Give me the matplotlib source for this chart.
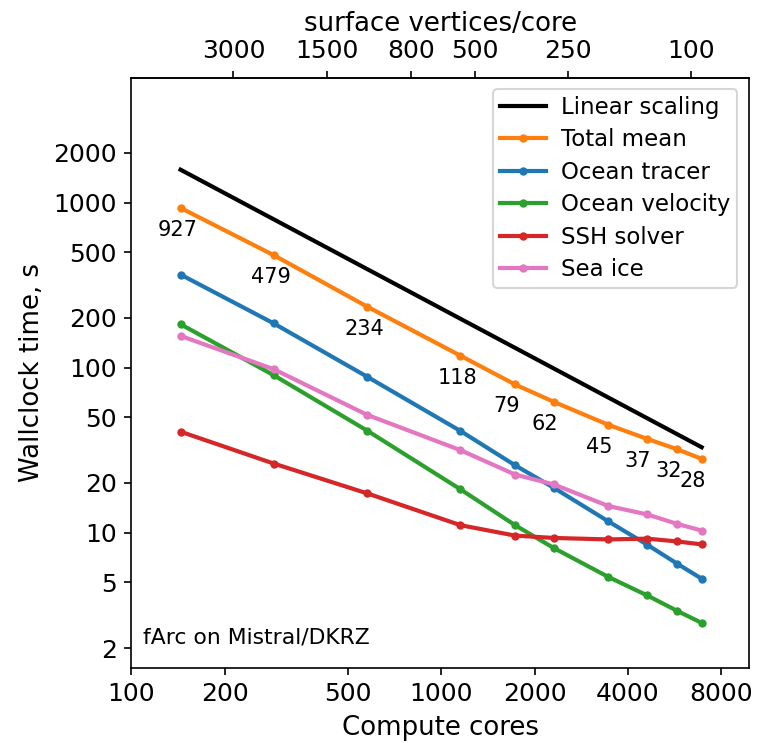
import matplotlib
matplotlib.use("Agg")
import matplotlib.pyplot as plt
import numpy as np
from matplotlib.ticker import NullLocator, FixedLocator, FixedFormatter

# data
cores = [144, 288, 576, 1152, 1728, 2304, 3456, 4608, 5760, 6912]
total_mean = [927, 479, 234, 118, 79, 62, 45, 37, 32, 28]
ocean_tracer = [366, 185, 88, 41.3, 25.6, 18.7, 11.7, 8.46, 6.49, 5.26]
ocean_velocity = [183, 89.8, 41.5, 18.3, 11.1, 8.07, 5.39, 4.17, 3.36, 2.84]
ssh_solver = [40.9, 26.2, 17.3, 11.1, 9.6, 9.29, 9.1, 9.2, 8.85, 8.49]
sea_ice = [155.6, 97.7, 51.7, 31.6, 22.5, 19.6, 14.5, 12.9, 11.3, 10.3]
linear_start = 1580  # time at first core count for ideal scaling
n_vertices = 640000  # surface vertices of the mesh

xticks = [100, 200, 500, 1000, 2000, 4000, 8000]
yticks = [2, 5, 10, 20, 50, 100, 200, 500, 1000, 2000]
top_ticks = [3000, 1500, 800, 500, 250, 100]

cores_arr = np.array(cores, dtype=float)
linear = linear_start * cores_arr[0] / cores_arr

fig = plt.figure(figsize=(757 / 150, 743 / 150), dpi=150)
ax = fig.add_axes([0.1737, 0.1013, 0.989 - 0.1737, 0.8954 - 0.1013])

ax.plot([cores[0], cores[-1]], [linear[0], linear[-1]], color="black", lw=2, label="Linear scaling")
ax.plot(cores, total_mean, ".-", color="C1", lw=2, label="Total mean")
ax.plot(cores, ocean_tracer, ".-", color="C0", lw=2, label="Ocean tracer")
ax.plot(cores, ocean_velocity, ".-", color="C2", lw=2, label="Ocean velocity")
ax.plot(cores, ssh_solver, ".-", color="C3", lw=2, label="SSH solver")
ax.plot(cores, sea_ice, ".-", color="C6", lw=2, label="Sea ice")

# labels of total mean, slightly below-left of each point
dx = [-3, -3, -3, -3, -9, -9, -9, -9, -9, -9]
for c, t, d in zip(cores, total_mean, dx):
    ax.annotate(str(t), (c, t), xytext=(d, -22), textcoords="offset pixels",
                ha="center", va="center", fontsize=10)

ax.set_xscale("log")
ax.set_yscale("log")
ax.set_xlim(100, 9800)
ax.set_ylim(1.52, 5700)
ax.xaxis.set_major_locator(FixedLocator(xticks))
ax.xaxis.set_major_formatter(FixedFormatter([str(v) for v in xticks]))
ax.yaxis.set_major_locator(FixedLocator(yticks))
ax.yaxis.set_major_formatter(FixedFormatter([str(v) for v in yticks]))
ax.xaxis.set_minor_locator(NullLocator())
ax.yaxis.set_minor_locator(NullLocator())
ax.tick_params(labelsize=12)
ax.set_xlabel("Compute cores", fontsize=12.5)
ax.set_ylabel("Wallclock time, s", fontsize=12.5)

def to_vert(x):
    x = np.asarray(x, dtype=float)
    return n_vertices / np.where(x == 0, 1e-9, x)

sec = ax.secondary_xaxis("top", functions=(to_vert, to_vert))
sec.xaxis.set_major_locator(FixedLocator(top_ticks))
sec.xaxis.set_major_formatter(FixedFormatter([str(v) for v in top_ticks]))
sec.xaxis.set_minor_locator(NullLocator())
sec.tick_params(labelsize=12)
sec.set_xlabel("surface vertices/core", fontsize=12.5)

ax.text(0.019, 0.0515, "fArc on Mistral/DKRZ", transform=ax.transAxes,
        ha="left", va="center", fontsize=10.5)

ax.legend(loc="upper right", fontsize=11, labelspacing=0.41,
          borderpad=0.3, handletextpad=0.65)

fig.savefig("out.png", dpi=150)
